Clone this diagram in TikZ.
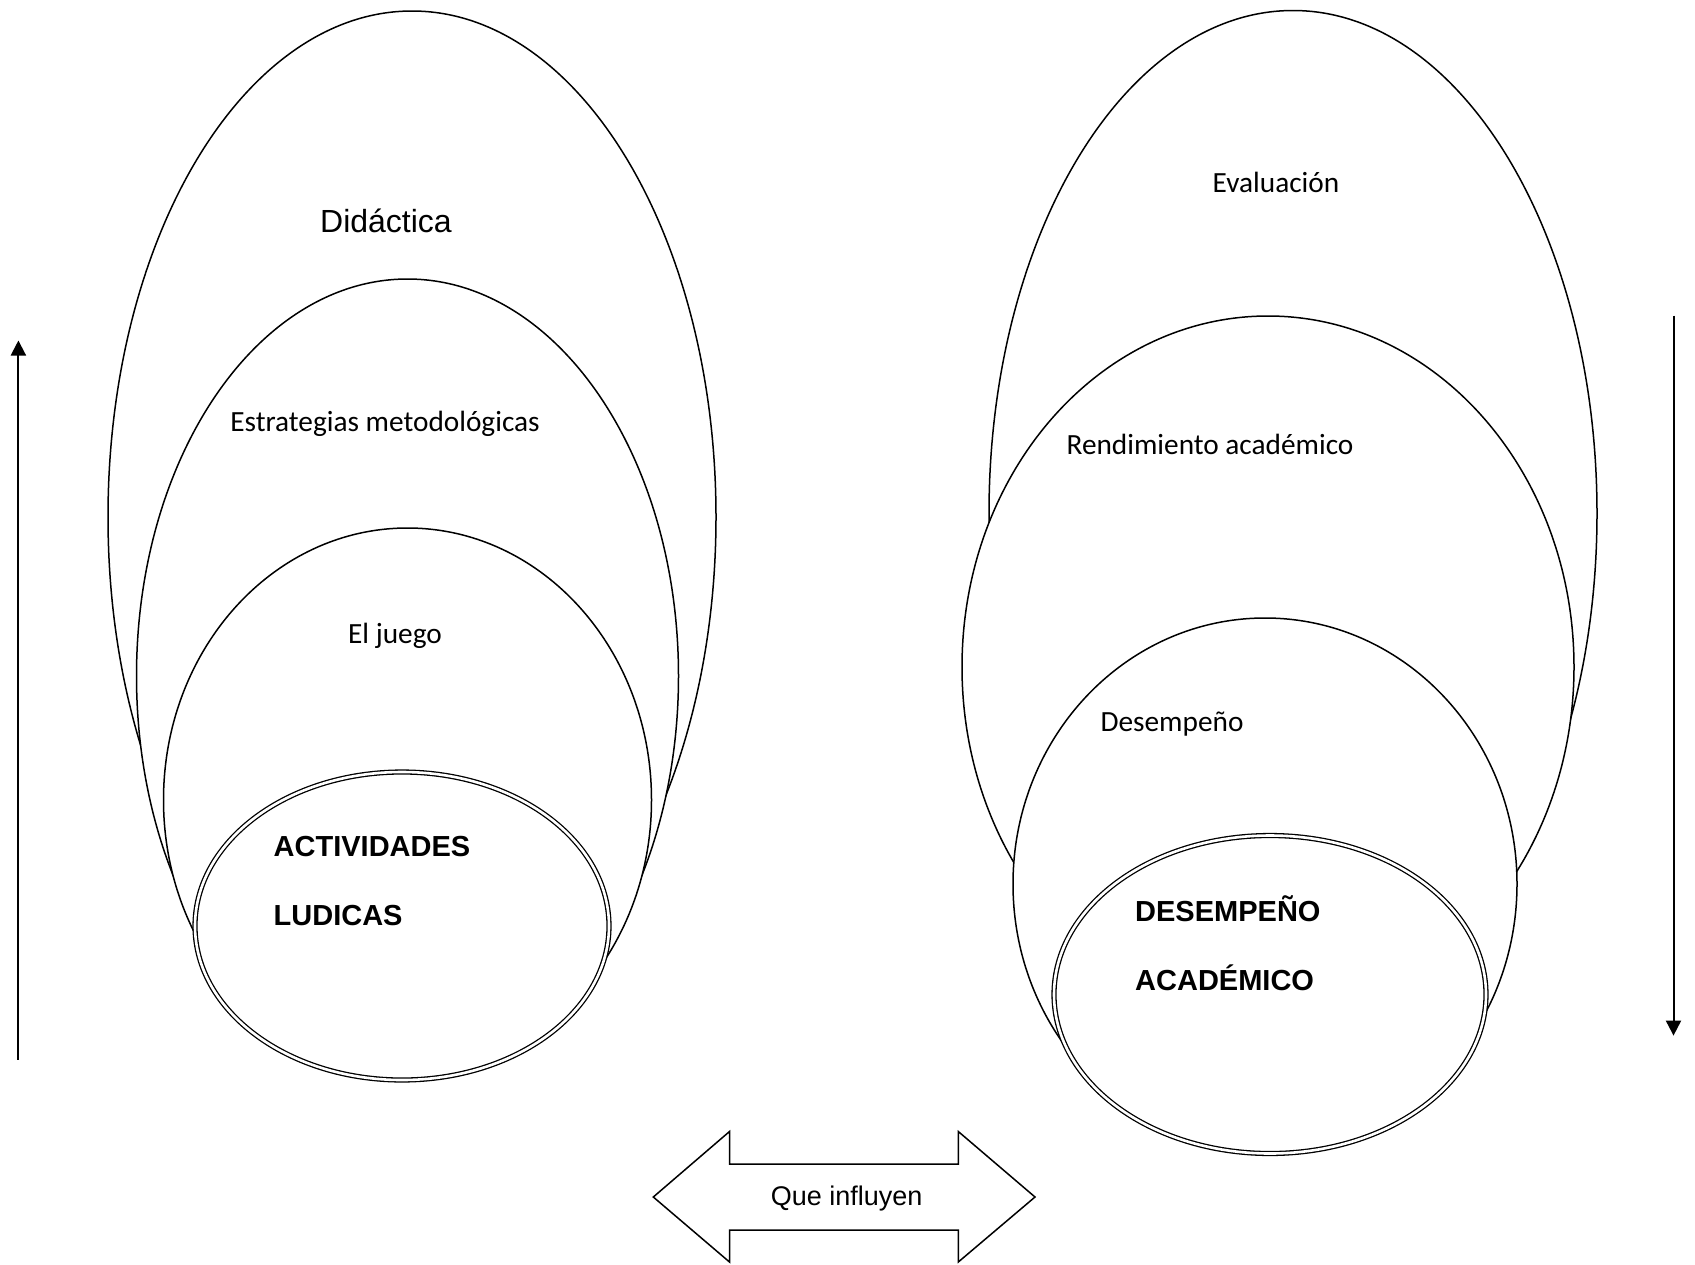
\documentclass[tikz,border=0pt]{standalone}
\usepackage{fontspec}
\setmainfont{Carlito}
\newfontfamily\arialf{Liberation Sans}
\usetikzlibrary{arrows.meta}
\begin{document}
\begin{tikzpicture}[x=1pt,y=-1pt,
  ell/.style={draw=black,fill=white,line width=1.5pt},
  dell/.style={draw=black,fill=white,double=white,double distance=2.6pt,line width=1.3pt},
  cal/.style={font=\fontsize{29.3}{34}\selectfont,anchor=base,inner sep=0pt},
  bold/.style={font=\arialf\bfseries\fontsize{29}{34}\selectfont,anchor=base west,inner sep=0pt},
  varrow/.style={line width=2pt,-{Triangle[length=15pt,width=15pt]}}]
\useasboundingbox (0,0) rectangle (1695,1264);
\fill[white] (0,0) rectangle (1695,1264);
% left group
\draw[ell] (412,517) ellipse [x radius=304,y radius=506];
\draw[ell] (407.5,676) ellipse [x radius=271,y radius=397];
\draw[ell] (407.5,800) ellipse [x radius=244,y radius=272];
\draw[dell] (402,926) ellipse [x radius=207,y radius=154];
% right group
\draw[ell] (1293,513.5) ellipse [x radius=304,y radius=503];
\draw[ell] (1268,667) ellipse [x radius=306,y radius=351];
\draw[ell] (1265,884) ellipse [x radius=252,y radius=266];
\draw[dell] (1270,994.5) ellipse [x radius=216,y radius=159];
% texts
\node[cal,font=\arialf\fontsize{32}{36}\selectfont] (did) at (386,232.7) {Didáctica};
\node[cal] (est) at (385,431.7) {Estrategias metodológicas};
\node[cal] (jue) at (395,643.3) {El juego};
\node[bold] (act) at (273.5,856.7) {ACTIVIDADES};
\node[bold] (lud) at (273.5,925) {LUDICAS};
\node[cal] (eva) at (1276,192.7) {Evaluación};
\node[cal] (ren) at (1210,454) {Rendimiento académico};
\node[cal] (des) at (1172,731.7) {Desempeño};
\node[bold] (dsp) at (1135,921.7) {DESEMPEÑO};
\node[bold] (aca) at (1135,990.7) {ACADÉMICO};
% vertical arrows
\coordinate (la1) at (18.4,1059.5);
\coordinate (la2) at (18.4,340.5);
\coordinate (ra1) at (1673.5,315.7);
\coordinate (ra2) at (1673.5,1035.6);
\draw[varrow] (la1) -- (la2);
\draw[varrow] (ra1) -- (ra2);
% double block arrow
\draw[line width=1.5pt,line join=miter,fill=white]
  (653.3,1197) -- (729.5,1131.5) -- (729.5,1164) -- (958.3,1164) -- (958.3,1131.5)
  -- (1035,1197) -- (958.3,1262) -- (958.3,1230) -- (729.5,1230) -- (729.5,1262) -- cycle;
\node[font=\arialf\fontsize{27}{32}\selectfont,inner sep=0pt] (inf) at (846.7,1199) {Que influyen};
\end{tikzpicture}
\end{document}
